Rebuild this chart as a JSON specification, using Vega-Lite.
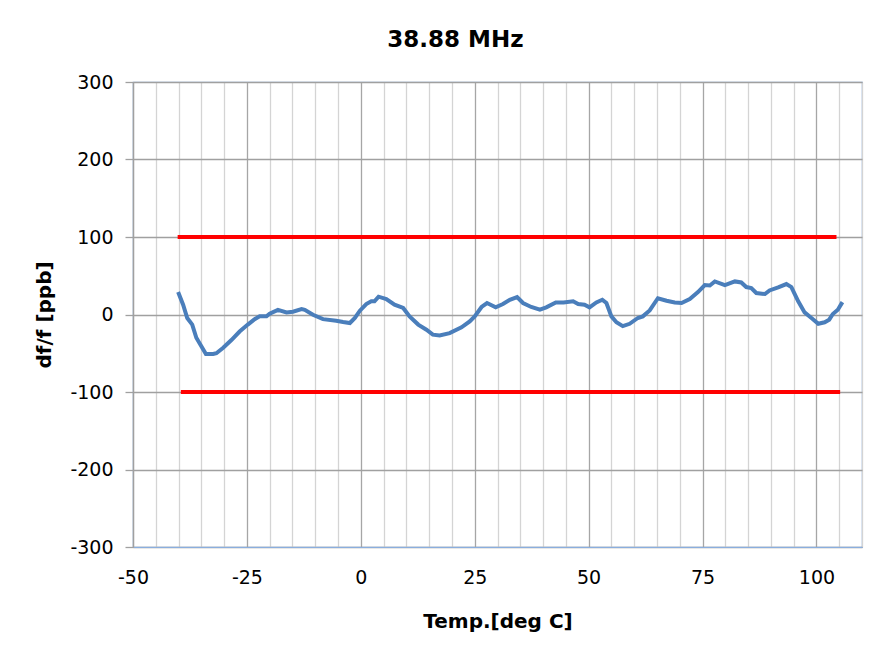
{
  "$schema": "https://vega.github.io/schema/vega-lite/v6.json",
  "width": 729,
  "height": 465,
  "autosize": {"type": "none"},
  "padding": {"left": 133, "top": 82, "right": 32, "bottom": 101},
  "background": "white",
  "title": {
    "text": "38.88 MHz",
    "font": "DejaVu Sans",
    "fontSize": 23,
    "fontWeight": "bold",
    "color": "black",
    "anchor": "middle",
    "dx": -42,
    "offset": 21
  },
  "config": {
    "view": {"stroke": "#8aaede", "strokeWidth": 1.2}
  },
  "datasets": {
    "curve": [
      {"t": -40.1, "v": 29}, {"t": -39.0, "v": 12.6}, {"t": -38.1, "v": -4.5}, {"t": -37.0, "v": -13},
      {"t": -36.1, "v": -30}, {"t": -35.0, "v": -41}, {"t": -34.0, "v": -51}, {"t": -32.4, "v": -51},
      {"t": -31.7, "v": -50}, {"t": -30.2, "v": -43}, {"t": -28.4, "v": -33}, {"t": -26.6, "v": -22},
      {"t": -24.8, "v": -13}, {"t": -23.3, "v": -6}, {"t": -22.2, "v": -2.4}, {"t": -20.7, "v": -2.4},
      {"t": -20.0, "v": 1}, {"t": -18.2, "v": 6}, {"t": -16.3, "v": 2.7}, {"t": -14.9, "v": 3.6},
      {"t": -13.0, "v": 7}, {"t": -12.3, "v": 6}, {"t": -10.5, "v": -0.3}, {"t": -8.3, "v": -6},
      {"t": -5.4, "v": -8}, {"t": -3.9, "v": -9.7}, {"t": -2.4, "v": -11}, {"t": -1.3, "v": -4.5},
      {"t": -0.2, "v": 4.9}, {"t": 1.2, "v": 13.5}, {"t": 2.3, "v": 17}, {"t": 3.0, "v": 17},
      {"t": 3.9, "v": 23}, {"t": 5.6, "v": 20}, {"t": 7.4, "v": 12.6}, {"t": 9.3, "v": 8.4},
      {"t": 10.7, "v": -2.4}, {"t": 12.6, "v": -13}, {"t": 14.4, "v": -19.6}, {"t": 15.8, "v": -26},
      {"t": 17.3, "v": -27}, {"t": 19.5, "v": -24}, {"t": 22.1, "v": -16.6}, {"t": 23.9, "v": -8.9},
      {"t": 25.0, "v": -2.4}, {"t": 26.5, "v": 9.7}, {"t": 27.7, "v": 14.8}, {"t": 29.6, "v": 9.2},
      {"t": 31.2, "v": 13.5}, {"t": 32.7, "v": 19}, {"t": 34.3, "v": 22.5}, {"t": 35.6, "v": 14.8},
      {"t": 37.4, "v": 9.7}, {"t": 39.3, "v": 6.2}, {"t": 40.7, "v": 9.2}, {"t": 42.8, "v": 15.6},
      {"t": 44.5, "v": 15.6}, {"t": 46.6, "v": 17}, {"t": 47.7, "v": 13.5}, {"t": 49.1, "v": 12.6},
      {"t": 50.2, "v": 9.2}, {"t": 51.7, "v": 15.6}, {"t": 53.0, "v": 19}, {"t": 53.9, "v": 14.8},
      {"t": 55.0, "v": -2.4}, {"t": 56.1, "v": -10}, {"t": 57.5, "v": -15}, {"t": 59.0, "v": -12},
      {"t": 60.8, "v": -4.5}, {"t": 61.9, "v": -2.4}, {"t": 63.4, "v": 5.3}, {"t": 65.2, "v": 21},
      {"t": 67.1, "v": 17.8}, {"t": 68.9, "v": 15.6}, {"t": 70.4, "v": 14.8}, {"t": 72.2, "v": 20},
      {"t": 74.0, "v": 29}, {"t": 75.5, "v": 38}, {"t": 76.6, "v": 37.5}, {"t": 77.7, "v": 42.7},
      {"t": 79.9, "v": 38}, {"t": 82.1, "v": 42.7}, {"t": 83.5, "v": 41.4}, {"t": 84.6, "v": 35.4},
      {"t": 85.7, "v": 34}, {"t": 86.8, "v": 27.7}, {"t": 88.7, "v": 26.4}, {"t": 89.7, "v": 31},
      {"t": 91.6, "v": 35}, {"t": 93.4, "v": 39.3}, {"t": 94.5, "v": 35.4}, {"t": 96.0, "v": 17},
      {"t": 97.4, "v": 2.7}, {"t": 98.9, "v": -4.5}, {"t": 100.4, "v": -12}, {"t": 101.8, "v": -10},
      {"t": 102.8, "v": -6.7}, {"t": 103.6, "v": 0.6}, {"t": 104.7, "v": 6.2}, {"t": 105.7, "v": 16}
    ],
    "limits": [
      {"t1": -40.2, "t2": 104.4, "v": 100},
      {"t1": -39.5, "t2": 105.2, "v": -100}
    ]
  },
  "resolve": {"axis": {"x": "independent"}},
  "layer": [
    {
      "data": {"name": "limits"},
      "mark": {"type": "rule", "color": "#ff0000", "strokeWidth": 4},
      "encoding": {
        "x": {
          "field": "t1", "type": "quantitative",
          "scale": {"domain": [-50, 110], "nice": false, "zero": false},
          "axis": {
            "orient": "bottom",
            "title": null,
            "values": [-45, -40, -35, -30, -20, -15, -10, -5, 5, 10, 15, 20, 30, 35, 40, 45, 55, 60, 65, 70, 80, 85, 90, 95, 105, 110],
            "labels": false,
            "ticks": false,
            "domain": false,
            "grid": true, "gridColor": "#d4d4d4", "gridWidth": 1.3
          }
        },
        "x2": {"field": "t2"},
        "y": {
          "field": "v", "type": "quantitative",
          "scale": {"domain": [-300, 300], "nice": false},
          "axis": {
            "title": "df/f [ppb]",
            "titleFont": "DejaVu Sans", "titleFontSize": 20, "titleFontWeight": "bold", "titleColor": "black",
            "titlePadding": 15,
            "values": [-300, -200, -100, 0, 100, 200, 300],
            "labelExpr": "replace(datum.label, '−', '-')",
            "labelFont": "DejaVu Sans", "labelFontSize": 19, "labelColor": "black",
            "labelPadding": 12,
            "ticks": true, "tickSize": 8, "tickColor": "#a0a0a0", "tickWidth": 1.3,
            "domain": true, "domainColor": "#a0a0a0", "domainWidth": 1.3,
            "grid": true, "gridColor": "#a0a0a0", "gridWidth": 1.3
          }
        }
      }
    },
    {
      "data": {"name": "curve"},
      "mark": {"type": "line", "color": "#4a7ebb", "strokeWidth": 4},
      "encoding": {
        "x": {
          "field": "t", "type": "quantitative",
          "axis": {
            "orient": "bottom",
            "title": "Temp.[deg C]",
            "titleFont": "DejaVu Sans", "titleFontSize": 20, "titleFontWeight": "bold", "titleColor": "black",
            "titlePadding": 24,
            "values": [-50, -25, 0, 25, 50, 75, 100],
            "labelExpr": "replace(datum.label, '−', '-')",
            "labelFont": "DejaVu Sans", "labelFontSize": 19, "labelColor": "black",
            "labelPadding": 21,
            "labelFlush": false,
            "labelOverlap": false,
            "ticks": false,
            "domain": true, "domainColor": "#8aaede", "domainWidth": 1.2,
            "grid": true, "gridColor": "#a6a6a6", "gridWidth": 1.3
          }
        },
        "y": {"field": "v", "type": "quantitative"}
      }
    }
  ]
}
